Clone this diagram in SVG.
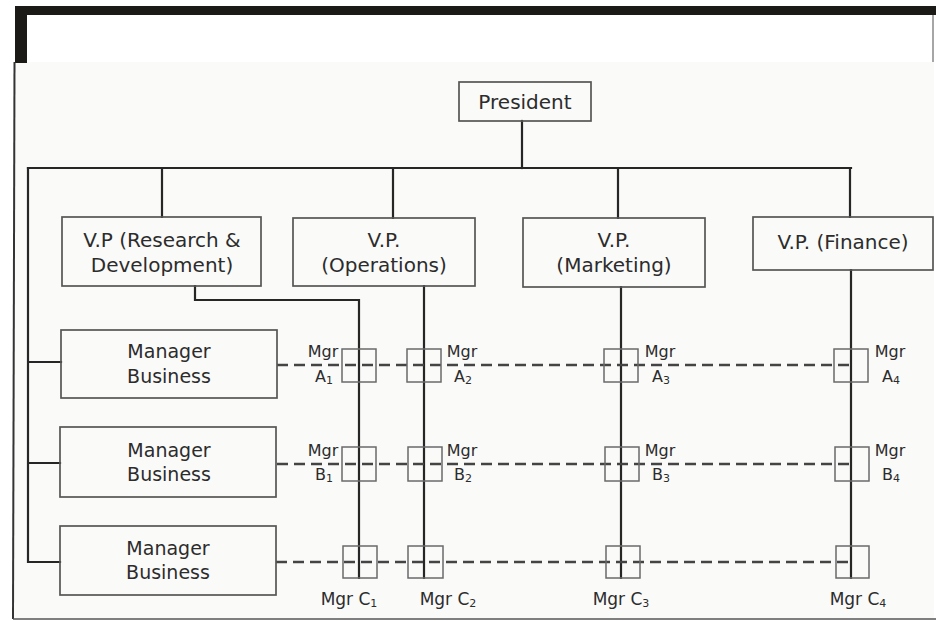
<svg xmlns="http://www.w3.org/2000/svg" width="936" height="621" viewBox="0 0 936 621">
  <style>
    .box { fill: none; stroke: #555; stroke-width: 1.7; }
    .cell { fill: none; stroke: #6a6a6a; stroke-width: 1.5; }
    .line { fill: none; stroke: #262626; stroke-width: 2.2; stroke-linecap: square; }
    .dash { fill: none; stroke: #444; stroke-width: 2.4; stroke-dasharray: 11 6; }
    .t { font-family: "DejaVu Sans", "Liberation Sans", sans-serif; font-size: 20px; fill: #2c2c2c; text-anchor: middle; }
    .m { font-size: 19px; }
    .s { font-family: "DejaVu Sans", "Liberation Sans", sans-serif; font-size: 16px; fill: #2c2c2c; text-anchor: middle; }
    .c { font-family: "DejaVu Sans", "Liberation Sans", sans-serif; font-size: 17px; fill: #2c2c2c; text-anchor: middle; }
    .sub { font-size: 11px; }
  </style>

  <!-- page and frame -->
  <rect x="0" y="0" width="936" height="621" fill="#ffffff"/>
  <rect x="14" y="62" width="920" height="556" fill="#fafaf9"/>
  <rect x="15" y="6" width="921" height="9" fill="#1c1a17"/>
  <rect x="15" y="6" width="12" height="57" fill="#1c1a17"/>
  <line x1="14.5" y1="62" x2="13" y2="619" stroke="#333" stroke-width="2"/>
  <line x1="13" y1="619" x2="936" y2="619" stroke="#555" stroke-width="1.5"/>
  <line x1="933" y1="15" x2="933" y2="62" stroke="#888" stroke-width="1.5"/>

  <!-- connectors -->
  <g id="connectors">
    <!-- president to VP bus -->
    <path class="line" d="M522 121 V168"/>
    <path class="line" d="M28 168 H851"/>
    <path class="line" d="M162 168 V217 M393 168 V218 M618 168 V218 M850 168 V217"/>
    <!-- bus down to business managers -->
    <path class="line" d="M28 168 V562 M28 362 H61 M28 463 H60 M28 562 H60"/>
    <!-- VP lines through the matrix -->
    <path class="line" d="M195 286 V300 H359 V578"/>
    <path class="line" d="M424 286 V578"/>
    <path class="line" d="M621 287 V578"/>
    <path class="line" d="M851 270 V578"/>
    <!-- business manager dotted lines -->
    <path class="dash" d="M277 365 H851"/>
    <path class="dash" d="M277 464 H851"/>
    <path class="dash" d="M276 562 H851"/>
  </g>

  <!-- top level -->
  <g id="president">
    <rect class="box" x="459" y="82" width="132" height="39"/>
    <text class="t" x="525" y="109">President</text>
  </g>

  <g id="vp-rd">
    <rect class="box" x="62" y="217" width="199" height="69"/>
    <text class="t" x="162" y="247">V.P (Research &amp;</text>
    <text class="t" x="162" y="272">Development)</text>
  </g>
  <g id="vp-operations">
    <rect class="box" x="293" y="218" width="182" height="68"/>
    <text class="t" x="384" y="247">V.P.</text>
    <text class="t" x="384" y="272">(Operations)</text>
  </g>
  <g id="vp-marketing">
    <rect class="box" x="523" y="218" width="182" height="69"/>
    <text class="t" x="614" y="247">V.P.</text>
    <text class="t" x="614" y="272">(Marketing)</text>
  </g>
  <g id="vp-finance">
    <rect class="box" x="753" y="217" width="180" height="53"/>
    <text class="t" x="843" y="249">V.P. (Finance)</text>
  </g>

  <!-- business managers -->
  <g id="manager-a">
    <rect class="box" x="61" y="330" width="216" height="68"/>
    <text class="t m" x="169" y="358">Manager</text>
    <text class="t m" x="169" y="383">Business</text>
  </g>
  <g id="manager-b">
    <rect class="box" x="60" y="427" width="216" height="70"/>
    <text class="t m" x="169" y="457">Manager</text>
    <text class="t m" x="169" y="481">Business</text>
  </g>
  <g id="manager-c">
    <rect class="box" x="60" y="526" width="216" height="69"/>
    <text class="t m" x="168" y="555">Manager</text>
    <text class="t m" x="168" y="579">Business</text>
  </g>

  <!-- matrix cells, row A -->
  <g id="mgr-a1">
    <rect class="cell" x="342" y="349" width="34" height="33"/>
    <text class="s" x="323" y="357">Mgr</text>
    <text class="s" x="324" y="382">A<tspan class="sub" dy="2">1</tspan></text>
  </g>
  <g id="mgr-a2">
    <rect class="cell" x="407" y="349" width="34" height="33"/>
    <text class="s" x="462" y="357">Mgr</text>
    <text class="s" x="463" y="382">A<tspan class="sub" dy="2">2</tspan></text>
  </g>
  <g id="mgr-a3">
    <rect class="cell" x="604" y="349" width="34" height="33"/>
    <text class="s" x="660" y="357">Mgr</text>
    <text class="s" x="661" y="382">A<tspan class="sub" dy="2">3</tspan></text>
  </g>
  <g id="mgr-a4">
    <rect class="cell" x="834" y="349" width="34" height="33"/>
    <text class="s" x="890" y="357">Mgr</text>
    <text class="s" x="891" y="382">A<tspan class="sub" dy="2">4</tspan></text>
  </g>

  <!-- matrix cells, row B -->
  <g id="mgr-b1">
    <rect class="cell" x="342" y="447" width="34" height="34"/>
    <text class="s" x="323" y="456">Mgr</text>
    <text class="s" x="324" y="480">B<tspan class="sub" dy="2">1</tspan></text>
  </g>
  <g id="mgr-b2">
    <rect class="cell" x="408" y="447" width="34" height="34"/>
    <text class="s" x="462" y="456">Mgr</text>
    <text class="s" x="463" y="480">B<tspan class="sub" dy="2">2</tspan></text>
  </g>
  <g id="mgr-b3">
    <rect class="cell" x="605" y="447" width="34" height="34"/>
    <text class="s" x="660" y="456">Mgr</text>
    <text class="s" x="661" y="480">B<tspan class="sub" dy="2">3</tspan></text>
  </g>
  <g id="mgr-b4">
    <rect class="cell" x="835" y="447" width="34" height="34"/>
    <text class="s" x="890" y="456">Mgr</text>
    <text class="s" x="891" y="480">B<tspan class="sub" dy="2">4</tspan></text>
  </g>

  <!-- matrix cells, row C -->
  <g id="mgr-c1">
    <rect class="cell" x="343" y="546" width="34" height="32"/>
    <text class="c" x="349" y="605">Mgr C<tspan class="sub" font-size="12" dy="2">1</tspan></text>
  </g>
  <g id="mgr-c2">
    <rect class="cell" x="408" y="546" width="35" height="32"/>
    <text class="c" x="448" y="605">Mgr C<tspan class="sub" font-size="12" dy="2">2</tspan></text>
  </g>
  <g id="mgr-c3">
    <rect class="cell" x="606" y="546" width="34" height="32"/>
    <text class="c" x="621" y="605">Mgr C<tspan class="sub" font-size="12" dy="2">3</tspan></text>
  </g>
  <g id="mgr-c4">
    <rect class="cell" x="836" y="546" width="33" height="32"/>
    <text class="c" x="858" y="605">Mgr C<tspan class="sub" font-size="12" dy="2">4</tspan></text>
  </g>
</svg>
